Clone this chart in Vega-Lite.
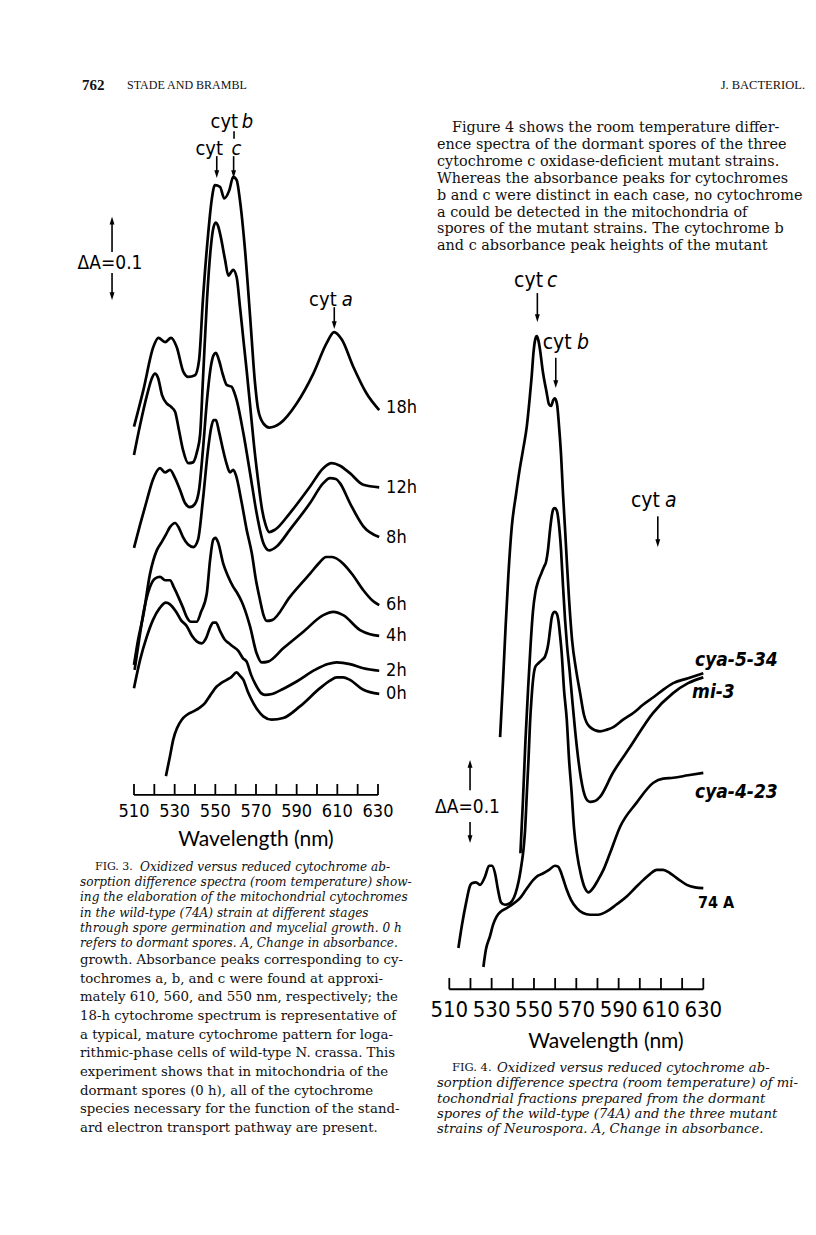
{
"$schema": "https://vega.github.io/schema/vega-lite/v6.json",
"background": "white",
"padding": 0,
"spacing": 0,
"config": {"view": {"stroke": null}, "concat": {"spacing": 0}},
"resolve": {"scale": {"x": "independent", "y": "independent"}},
"datasets": {
"f3": [
{"s":"18h","nm":510.0,"A":0.510},{"s":"18h","nm":514.6,"A":0.554},{"s":"18h","nm":519.5,"A":0.606},{"s":"18h","nm":522.0,"A":0.617},{"s":"18h","nm":525.3,"A":0.612},{"s":"18h","nm":528.2,"A":0.617},{"s":"18h","nm":531.0,"A":0.606},{"s":"18h","nm":534.3,"A":0.576},{"s":"18h","nm":536.7,"A":0.570},{"s":"18h","nm":540.0,"A":0.572},{"s":"18h","nm":542.0,"A":0.590},{"s":"18h","nm":543.9,"A":0.663},{"s":"18h","nm":546.5,"A":0.743},{"s":"18h","nm":548.2,"A":0.783},{"s":"18h","nm":549.8,"A":0.801},{"s":"18h","nm":552.3,"A":0.799},{"s":"18h","nm":554.4,"A":0.785},{"s":"18h","nm":556.9,"A":0.795},{"s":"18h","nm":558.8,"A":0.811},{"s":"18h","nm":560.5,"A":0.807},{"s":"18h","nm":562.1,"A":0.783},{"s":"18h","nm":564.6,"A":0.723},{"s":"18h","nm":567.1,"A":0.643},{"s":"18h","nm":569.5,"A":0.563},{"s":"18h","nm":571.1,"A":0.530},{"s":"18h","nm":573.6,"A":0.514},{"s":"18h","nm":576.5,"A":0.509},{"s":"18h","nm":581.8,"A":0.514},{"s":"18h","nm":590.0,"A":0.538},{"s":"18h","nm":598.2,"A":0.574},{"s":"18h","nm":604.8,"A":0.611},{"s":"18h","nm":608.4,"A":0.624},{"s":"18h","nm":612.2,"A":0.615},{"s":"18h","nm":617.9,"A":0.582},{"s":"18h","nm":624.4,"A":0.550},{"s":"18h","nm":630.6,"A":0.530},
{"s":"12h","nm":510.0,"A":0.476},{"s":"12h","nm":513.0,"A":0.512},{"s":"12h","nm":516.4,"A":0.548},{"s":"12h","nm":518.9,"A":0.569},{"s":"12h","nm":520.3,"A":0.574},{"s":"12h","nm":521.8,"A":0.569},{"s":"12h","nm":523.8,"A":0.548},{"s":"12h","nm":526.1,"A":0.538},{"s":"12h","nm":528.2,"A":0.534},{"s":"12h","nm":530.2,"A":0.528},{"s":"12h","nm":532.1,"A":0.506},{"s":"12h","nm":534.1,"A":0.482},{"s":"12h","nm":536.7,"A":0.466},{"s":"12h","nm":539.0,"A":0.467},{"s":"12h","nm":541.0,"A":0.480},{"s":"12h","nm":542.5,"A":0.500},{"s":"12h","nm":543.9,"A":0.566},{"s":"12h","nm":545.9,"A":0.663},{"s":"12h","nm":547.9,"A":0.729},{"s":"12h","nm":549.0,"A":0.749},{"s":"12h","nm":550.2,"A":0.756},{"s":"12h","nm":551.3,"A":0.752},{"s":"12h","nm":552.3,"A":0.743},{"s":"12h","nm":554.8,"A":0.711},{"s":"12h","nm":556.4,"A":0.692},{"s":"12h","nm":557.7,"A":0.696},{"s":"12h","nm":558.8,"A":0.699},{"s":"12h","nm":560.5,"A":0.690},{"s":"12h","nm":562.1,"A":0.655},{"s":"12h","nm":563.8,"A":0.615},{"s":"12h","nm":565.4,"A":0.578},{"s":"12h","nm":567.1,"A":0.536},{"s":"12h","nm":569.0,"A":0.488},{"s":"12h","nm":571.0,"A":0.446},{"s":"12h","nm":573.0,"A":0.410},{"s":"12h","nm":574.7,"A":0.392},{"s":"12h","nm":576.5,"A":0.383},{"s":"12h","nm":579.4,"A":0.386},{"s":"12h","nm":586.7,"A":0.406},{"s":"12h","nm":596.6,"A":0.438},{"s":"12h","nm":603.1,"A":0.460},{"s":"12h","nm":607.2,"A":0.466},{"s":"12h","nm":611.3,"A":0.463},{"s":"12h","nm":616.2,"A":0.454},{"s":"12h","nm":622.8,"A":0.440},{"s":"12h","nm":630.6,"A":0.437},
{"s":"8h","nm":510.0,"A":0.364},{"s":"8h","nm":513.0,"A":0.392},{"s":"8h","nm":516.4,"A":0.422},{"s":"8h","nm":519.3,"A":0.446},{"s":"8h","nm":522.8,"A":0.460},{"s":"8h","nm":525.3,"A":0.455},{"s":"8h","nm":527.7,"A":0.458},{"s":"8h","nm":530.2,"A":0.448},{"s":"8h","nm":532.6,"A":0.434},{"s":"8h","nm":535.1,"A":0.418},{"s":"8h","nm":537.5,"A":0.413},{"s":"8h","nm":540.0,"A":0.417},{"s":"8h","nm":542.0,"A":0.434},{"s":"8h","nm":543.9,"A":0.482},{"s":"8h","nm":545.9,"A":0.542},{"s":"8h","nm":547.9,"A":0.584},{"s":"8h","nm":549.1,"A":0.596},{"s":"8h","nm":550.3,"A":0.599},{"s":"8h","nm":551.8,"A":0.590},{"s":"8h","nm":553.8,"A":0.572},{"s":"8h","nm":555.7,"A":0.560},{"s":"8h","nm":558.1,"A":0.558},{"s":"8h","nm":559.2,"A":0.552},{"s":"8h","nm":560.5,"A":0.542},{"s":"8h","nm":563.8,"A":0.502},{"s":"8h","nm":567.1,"A":0.454},{"s":"8h","nm":570.3,"A":0.406},{"s":"8h","nm":573.6,"A":0.370},{"s":"8h","nm":576.5,"A":0.361},{"s":"8h","nm":580.3,"A":0.366},{"s":"8h","nm":586.7,"A":0.386},{"s":"8h","nm":596.6,"A":0.418},{"s":"8h","nm":603.1,"A":0.442},{"s":"8h","nm":606.4,"A":0.448},{"s":"8h","nm":609.3,"A":0.447},{"s":"8h","nm":611.3,"A":0.442},{"s":"8h","nm":616.2,"A":0.418},{"s":"8h","nm":622.8,"A":0.390},{"s":"8h","nm":630.6,"A":0.377},
{"s":"6h","nm":510.0,"A":0.223},{"s":"6h","nm":512.0,"A":0.253},{"s":"6h","nm":514.6,"A":0.283},{"s":"6h","nm":517.9,"A":0.333},{"s":"6h","nm":521.2,"A":0.361},{"s":"6h","nm":523.6,"A":0.371},{"s":"6h","nm":525.7,"A":0.380},{"s":"6h","nm":527.7,"A":0.389},{"s":"6h","nm":530.2,"A":0.394},{"s":"6h","nm":532.1,"A":0.388},{"s":"6h","nm":534.1,"A":0.377},{"s":"6h","nm":536.6,"A":0.368},{"s":"6h","nm":539.2,"A":0.365},{"s":"6h","nm":541.5,"A":0.374},{"s":"6h","nm":543.9,"A":0.422},{"s":"6h","nm":546.4,"A":0.482},{"s":"6h","nm":547.9,"A":0.508},{"s":"6h","nm":549.1,"A":0.518},{"s":"6h","nm":550.3,"A":0.518},{"s":"6h","nm":551.8,"A":0.504},{"s":"6h","nm":553.8,"A":0.482},{"s":"6h","nm":555.7,"A":0.464},{"s":"6h","nm":557.2,"A":0.455},{"s":"6h","nm":558.8,"A":0.458},{"s":"6h","nm":560.2,"A":0.451},{"s":"6h","nm":563.0,"A":0.418},{"s":"6h","nm":565.4,"A":0.386},{"s":"6h","nm":567.9,"A":0.358},{"s":"6h","nm":570.0,"A":0.325},{"s":"6h","nm":572.0,"A":0.301},{"s":"6h","nm":573.7,"A":0.283},{"s":"6h","nm":575.3,"A":0.276},{"s":"6h","nm":577.9,"A":0.277},{"s":"6h","nm":586.7,"A":0.305},{"s":"6h","nm":596.6,"A":0.333},{"s":"6h","nm":601.5,"A":0.347},{"s":"6h","nm":604.4,"A":0.353},{"s":"6h","nm":607.4,"A":0.353},{"s":"6h","nm":612.9,"A":0.345},{"s":"6h","nm":617.7,"A":0.331},{"s":"6h","nm":622.8,"A":0.313},{"s":"6h","nm":627.1,"A":0.301},{"s":"6h","nm":630.6,"A":0.295},
{"s":"4h","nm":510.3,"A":0.217},{"s":"4h","nm":512.5,"A":0.253},{"s":"4h","nm":514.9,"A":0.289},{"s":"4h","nm":517.9,"A":0.317},{"s":"4h","nm":520.3,"A":0.327},{"s":"4h","nm":522.8,"A":0.329},{"s":"4h","nm":525.3,"A":0.325},{"s":"4h","nm":527.7,"A":0.325},{"s":"4h","nm":529.7,"A":0.316},{"s":"4h","nm":531.8,"A":0.305},{"s":"4h","nm":534.1,"A":0.292},{"s":"4h","nm":535.9,"A":0.281},{"s":"4h","nm":538.0,"A":0.275},{"s":"4h","nm":540.8,"A":0.275},{"s":"4h","nm":543.0,"A":0.287},{"s":"4h","nm":545.8,"A":0.309},{"s":"4h","nm":547.4,"A":0.349},{"s":"4h","nm":549.0,"A":0.374},{"s":"4h","nm":550.1,"A":0.376},{"s":"4h","nm":551.3,"A":0.371},{"s":"4h","nm":553.9,"A":0.345},{"s":"4h","nm":556.2,"A":0.330},{"s":"4h","nm":558.8,"A":0.317},{"s":"4h","nm":560.7,"A":0.310},{"s":"4h","nm":563.0,"A":0.299},{"s":"4h","nm":564.6,"A":0.289},{"s":"4h","nm":567.1,"A":0.269},{"s":"4h","nm":570.3,"A":0.237},{"s":"4h","nm":572.8,"A":0.226},{"s":"4h","nm":575.9,"A":0.227},{"s":"4h","nm":583.4,"A":0.243},{"s":"4h","nm":593.3,"A":0.263},{"s":"4h","nm":603.1,"A":0.283},{"s":"4h","nm":608.0,"A":0.287},{"s":"4h","nm":612.9,"A":0.283},{"s":"4h","nm":621.2,"A":0.265},{"s":"4h","nm":626.1,"A":0.260},{"s":"4h","nm":630.6,"A":0.258},
{"s":"2h","nm":510.0,"A":0.195},{"s":"2h","nm":513.0,"A":0.229},{"s":"2h","nm":516.3,"A":0.257},{"s":"2h","nm":519.3,"A":0.277},{"s":"2h","nm":522.8,"A":0.292},{"s":"2h","nm":525.7,"A":0.298},{"s":"2h","nm":527.7,"A":0.296},{"s":"2h","nm":530.7,"A":0.287},{"s":"2h","nm":533.1,"A":0.277},{"s":"2h","nm":535.9,"A":0.270},{"s":"2h","nm":538.5,"A":0.258},{"s":"2h","nm":541.0,"A":0.251},{"s":"2h","nm":543.3,"A":0.249},{"s":"2h","nm":545.4,"A":0.255},{"s":"2h","nm":547.4,"A":0.268},{"s":"2h","nm":548.9,"A":0.274},{"s":"2h","nm":550.3,"A":0.274},{"s":"2h","nm":552.3,"A":0.264},{"s":"2h","nm":554.8,"A":0.253},{"s":"2h","nm":556.7,"A":0.249},{"s":"2h","nm":558.2,"A":0.246},{"s":"2h","nm":561.3,"A":0.240},{"s":"2h","nm":563.6,"A":0.231},{"s":"2h","nm":565.4,"A":0.227},{"s":"2h","nm":567.6,"A":0.211},{"s":"2h","nm":570.3,"A":0.197},{"s":"2h","nm":572.5,"A":0.189},{"s":"2h","nm":574.4,"A":0.187},{"s":"2h","nm":577.9,"A":0.188},{"s":"2h","nm":583.3,"A":0.194},{"s":"2h","nm":590.0,"A":0.203},{"s":"2h","nm":599.0,"A":0.217},{"s":"2h","nm":605.4,"A":0.224},{"s":"2h","nm":609.7,"A":0.226},{"s":"2h","nm":616.2,"A":0.224},{"s":"2h","nm":622.8,"A":0.219},{"s":"2h","nm":630.6,"A":0.216},
{"s":"0h","nm":525.7,"A":0.089},{"s":"0h","nm":527.7,"A":0.113},{"s":"0h","nm":529.3,"A":0.133},{"s":"0h","nm":531.2,"A":0.147},{"s":"0h","nm":533.5,"A":0.157},{"s":"0h","nm":536.1,"A":0.163},{"s":"0h","nm":539.2,"A":0.167},{"s":"0h","nm":542.0,"A":0.171},{"s":"0h","nm":544.9,"A":0.177},{"s":"0h","nm":547.4,"A":0.186},{"s":"0h","nm":550.7,"A":0.197},{"s":"0h","nm":552.8,"A":0.201},{"s":"0h","nm":555.6,"A":0.205},{"s":"0h","nm":557.7,"A":0.208},{"s":"0h","nm":560.5,"A":0.214},{"s":"0h","nm":562.1,"A":0.210},{"s":"0h","nm":563.8,"A":0.205},{"s":"0h","nm":566.1,"A":0.190},{"s":"0h","nm":568.7,"A":0.177},{"s":"0h","nm":571.0,"A":0.168},{"s":"0h","nm":573.6,"A":0.161},{"s":"0h","nm":577.7,"A":0.157},{"s":"0h","nm":583.4,"A":0.159},{"s":"0h","nm":591.6,"A":0.173},{"s":"0h","nm":601.5,"A":0.195},{"s":"0h","nm":606.4,"A":0.204},{"s":"0h","nm":609.7,"A":0.208},{"s":"0h","nm":612.8,"A":0.208},{"s":"0h","nm":616.2,"A":0.205},{"s":"0h","nm":622.8,"A":0.193},{"s":"0h","nm":630.6,"A":0.188}
],
"f4": [
{"s":"cya-5-34","nm":534.0,"A":0.383},{"s":"cya-5-34","nm":535.4,"A":0.452},{"s":"cya-5-34","nm":536.6,"A":0.516},{"s":"cya-5-34","nm":537.9,"A":0.578},{"s":"cya-5-34","nm":539.5,"A":0.636},{"s":"cya-5-34","nm":541.5,"A":0.675},{"s":"cya-5-34","nm":543.4,"A":0.708},{"s":"cya-5-34","nm":545.1,"A":0.733},{"s":"cya-5-34","nm":546.6,"A":0.757},{"s":"cya-5-34","nm":547.9,"A":0.789},{"s":"cya-5-34","nm":548.9,"A":0.817},{"s":"cya-5-34","nm":549.8,"A":0.847},{"s":"cya-5-34","nm":550.5,"A":0.861},{"s":"cya-5-34","nm":551.3,"A":0.866},{"s":"cya-5-34","nm":552.1,"A":0.861},{"s":"cya-5-34","nm":552.9,"A":0.849},{"s":"cya-5-34","nm":554.1,"A":0.825},{"s":"cya-5-34","nm":556.0,"A":0.798},{"s":"cya-5-34","nm":557.1,"A":0.784},{"s":"cya-5-34","nm":558.1,"A":0.782},{"s":"cya-5-34","nm":559.1,"A":0.789},{"s":"cya-5-34","nm":559.9,"A":0.791},{"s":"cya-5-34","nm":560.9,"A":0.784},{"s":"cya-5-34","nm":561.8,"A":0.759},{"s":"cya-5-34","nm":562.8,"A":0.723},{"s":"cya-5-34","nm":563.7,"A":0.677},{"s":"cya-5-34","nm":564.7,"A":0.633},{"s":"cya-5-34","nm":565.5,"A":0.596},{"s":"cya-5-34","nm":566.6,"A":0.548},{"s":"cya-5-34","nm":568.0,"A":0.500},{"s":"cya-5-34","nm":569.9,"A":0.464},{"s":"cya-5-34","nm":571.8,"A":0.436},{"s":"cya-5-34","nm":573.6,"A":0.410},{"s":"cya-5-34","nm":576.5,"A":0.395},{"s":"cya-5-34","nm":581.2,"A":0.390},{"s":"cya-5-34","nm":584.5,"A":0.392},{"s":"cya-5-34","nm":587.5,"A":0.395},{"s":"cya-5-34","nm":592.1,"A":0.404},{"s":"cya-5-34","nm":596.9,"A":0.412},{"s":"cya-5-34","nm":601.5,"A":0.422},{"s":"cya-5-34","nm":606.4,"A":0.431},{"s":"cya-5-34","nm":611.0,"A":0.440},{"s":"cya-5-34","nm":615.8,"A":0.448},{"s":"cya-5-34","nm":622.8,"A":0.454},{"s":"cya-5-34","nm":630.0,"A":0.460},
{"s":"mi-3","nm":543.6,"A":0.243},{"s":"mi-3","nm":544.8,"A":0.307},{"s":"mi-3","nm":546.0,"A":0.380},{"s":"mi-3","nm":547.2,"A":0.440},{"s":"mi-3","nm":548.4,"A":0.494},{"s":"mi-3","nm":549.5,"A":0.534},{"s":"mi-3","nm":550.7,"A":0.558},{"s":"mi-3","nm":551.9,"A":0.570},{"s":"mi-3","nm":553.6,"A":0.581},{"s":"mi-3","nm":554.7,"A":0.588},{"s":"mi-3","nm":555.7,"A":0.594},{"s":"mi-3","nm":556.6,"A":0.608},{"s":"mi-3","nm":557.6,"A":0.633},{"s":"mi-3","nm":558.5,"A":0.651},{"s":"mi-3","nm":559.2,"A":0.658},{"s":"mi-3","nm":559.9,"A":0.659},{"s":"mi-3","nm":560.9,"A":0.655},{"s":"mi-3","nm":561.8,"A":0.639},{"s":"mi-3","nm":562.8,"A":0.608},{"s":"mi-3","nm":563.7,"A":0.566},{"s":"mi-3","nm":564.7,"A":0.524},{"s":"mi-3","nm":565.6,"A":0.494},{"s":"mi-3","nm":566.8,"A":0.464},{"s":"mi-3","nm":567.8,"A":0.436},{"s":"mi-3","nm":569.4,"A":0.392},{"s":"mi-3","nm":571.0,"A":0.355},{"s":"mi-3","nm":573.3,"A":0.319},{"s":"mi-3","nm":575.1,"A":0.307},{"s":"mi-3","nm":576.5,"A":0.305},{"s":"mi-3","nm":578.8,"A":0.306},{"s":"mi-3","nm":581.2,"A":0.311},{"s":"mi-3","nm":587.3,"A":0.340},{"s":"mi-3","nm":595.4,"A":0.371},{"s":"mi-3","nm":606.2,"A":0.412},{"s":"mi-3","nm":615.7,"A":0.436},{"s":"mi-3","nm":622.8,"A":0.448},{"s":"mi-3","nm":630.0,"A":0.455},
{"s":"cya-4-23","nm":514.3,"A":0.129},{"s":"cya-4-23","nm":516.0,"A":0.157},{"s":"cya-4-23","nm":517.9,"A":0.183},{"s":"cya-4-23","nm":519.8,"A":0.204},{"s":"cya-4-23","nm":520.7,"A":0.207},{"s":"cya-4-23","nm":522.6,"A":0.208},{"s":"cya-4-23","nm":524.5,"A":0.205},{"s":"cya-4-23","nm":526.9,"A":0.215},{"s":"cya-4-23","nm":528.8,"A":0.228},{"s":"cya-4-23","nm":530.2,"A":0.228},{"s":"cya-4-23","nm":531.6,"A":0.219},{"s":"cya-4-23","nm":533.0,"A":0.199},{"s":"cya-4-23","nm":534.4,"A":0.184},{"s":"cya-4-23","nm":536.3,"A":0.181},{"s":"cya-4-23","nm":538.7,"A":0.183},{"s":"cya-4-23","nm":540.6,"A":0.190},{"s":"cya-4-23","nm":542.0,"A":0.201},{"s":"cya-4-23","nm":543.2,"A":0.215},{"s":"cya-4-23","nm":544.2,"A":0.231},{"s":"cya-4-23","nm":545.1,"A":0.249},{"s":"cya-4-23","nm":545.8,"A":0.271},{"s":"cya-4-23","nm":546.7,"A":0.319},{"s":"cya-4-23","nm":547.4,"A":0.355},{"s":"cya-4-23","nm":548.1,"A":0.398},{"s":"cya-4-23","nm":548.8,"A":0.428},{"s":"cya-4-23","nm":549.7,"A":0.455},{"s":"cya-4-23","nm":550.7,"A":0.468},{"s":"cya-4-23","nm":552.1,"A":0.472},{"s":"cya-4-23","nm":553.8,"A":0.476},{"s":"cya-4-23","nm":555.2,"A":0.480},{"s":"cya-4-23","nm":556.8,"A":0.496},{"s":"cya-4-23","nm":557.6,"A":0.512},{"s":"cya-4-23","nm":558.4,"A":0.527},{"s":"cya-4-23","nm":559.2,"A":0.533},{"s":"cya-4-23","nm":559.9,"A":0.534},{"s":"cya-4-23","nm":560.9,"A":0.531},{"s":"cya-4-23","nm":561.5,"A":0.524},{"s":"cya-4-23","nm":562.3,"A":0.506},{"s":"cya-4-23","nm":563.1,"A":0.484},{"s":"cya-4-23","nm":564.2,"A":0.440},{"s":"cya-4-23","nm":565.5,"A":0.404},{"s":"cya-4-23","nm":566.6,"A":0.355},{"s":"cya-4-23","nm":567.8,"A":0.316},{"s":"cya-4-23","nm":568.9,"A":0.274},{"s":"cya-4-23","nm":570.3,"A":0.243},{"s":"cya-4-23","nm":572.2,"A":0.217},{"s":"cya-4-23","nm":573.9,"A":0.202},{"s":"cya-4-23","nm":575.7,"A":0.196},{"s":"cya-4-23","nm":577.9,"A":0.201},{"s":"cya-4-23","nm":580.3,"A":0.211},{"s":"cya-4-23","nm":582.8,"A":0.223},{"s":"cya-4-23","nm":585.9,"A":0.243},{"s":"cya-4-23","nm":590.7,"A":0.275},{"s":"cya-4-23","nm":598.5,"A":0.304},{"s":"cya-4-23","nm":606.4,"A":0.328},{"s":"cya-4-23","nm":611.0,"A":0.333},{"s":"cya-4-23","nm":615.8,"A":0.334},{"s":"cya-4-23","nm":622.8,"A":0.337},{"s":"cya-4-23","nm":630.0,"A":0.340},
{"s":"74A","nm":526.1,"A":0.106},{"s":"74A","nm":527.3,"A":0.127},{"s":"74A","nm":529.2,"A":0.143},{"s":"74A","nm":530.7,"A":0.157},{"s":"74A","nm":532.4,"A":0.167},{"s":"74A","nm":534.4,"A":0.173},{"s":"74A","nm":537.1,"A":0.177},{"s":"74A","nm":540.1,"A":0.182},{"s":"74A","nm":543.4,"A":0.189},{"s":"74A","nm":546.2,"A":0.199},{"s":"74A","nm":549.7,"A":0.211},{"s":"74A","nm":551.9,"A":0.216},{"s":"74A","nm":554.4,"A":0.219},{"s":"74A","nm":557.1,"A":0.223},{"s":"74A","nm":559.9,"A":0.228},{"s":"74A","nm":561.4,"A":0.227},{"s":"74A","nm":562.3,"A":0.223},{"s":"74A","nm":563.7,"A":0.213},{"s":"74A","nm":565.5,"A":0.199},{"s":"74A","nm":567.5,"A":0.187},{"s":"74A","nm":570.2,"A":0.177},{"s":"74A","nm":573.2,"A":0.171},{"s":"74A","nm":576.5,"A":0.169},{"s":"74A","nm":580.3,"A":0.169},{"s":"74A","nm":584.4,"A":0.173},{"s":"74A","nm":588.8,"A":0.181},{"s":"74A","nm":593.8,"A":0.191},{"s":"74A","nm":597.7,"A":0.201},{"s":"74A","nm":601.7,"A":0.211},{"s":"74A","nm":604.8,"A":0.218},{"s":"74A","nm":608.0,"A":0.223},{"s":"74A","nm":611.0,"A":0.223},{"s":"74A","nm":614.3,"A":0.219},{"s":"74A","nm":618.1,"A":0.212},{"s":"74A","nm":622.2,"A":0.205},{"s":"74A","nm":626.1,"A":0.202},{"s":"74A","nm":630.0,"A":0.201}
],
"ticks": [{"nm":510},{"nm":520},{"nm":530},{"nm":540},{"nm":550},{"nm":560},{"nm":570},{"nm":580},{"nm":590},{"nm":600},{"nm":610},{"nm":620},{"nm":630}],
"f3lab": [{"label":"18h","nm":634,"A":0.533},{"label":"12h","nm":634,"A":0.436},{"label":"8h","nm":634,"A":0.376},{"label":"6h","nm":634,"A":0.295},{"label":"4h","nm":634,"A":0.258},{"label":"2h","nm":634,"A":0.216},{"label":"0h","nm":634,"A":0.188}],
"f3cyt": [{"label":"cyt","nm":561.2,"A":0.877},{"label":"cyt","nm":553.8,"A":0.844},{"label":"cyt","nm":609.7,"A":0.663}],
"f3let": [{"label":"b","nm":563.0,"A":0.877},{"label":"c","nm":558.0,"A":0.844},{"label":"a","nm":612.2,"A":0.663}],
"f3dA": [{"label":"ΔA=0.1","nm":498.2,"A":0.707}],
"f3sh": [{"nm":550.7,"A":0.836,"A2":0.815},{"nm":559.0,"A":0.836,"A2":0.815},{"nm":559.2,"A":0.866,"A2":0.857},{"nm":608.5,"A":0.654,"A2":0.633},{"nm":499.2,"A":0.7205,"A2":0.755},{"nm":499.2,"A":0.6952,"A2":0.670}],
"f3hd": [{"nm":550.7,"A":0.8096,"dir":"down"},{"nm":559.0,"A":0.8096,"dir":"down"},{"nm":608.5,"A":0.6277,"dir":"down"},{"nm":499.2,"A":0.763,"dir":"up"},{"nm":499.2,"A":0.6627,"dir":"down"}],
"f4lab": [{"label":"cya-5-34","nm":626.1,"A":0.476},{"label":"mi-3","nm":624.7,"A":0.437},{"label":"cya-4-23","nm":626.1,"A":0.317}],
"f4lab2": [{"label":"74 A","nm":627.5,"A":0.183}],
"f4cyt": [{"label":"cyt","nm":554.3,"A":0.932},{"label":"cyt","nm":567.8,"A":0.858},{"label":"cyt","nm":609.5,"A":0.667}],
"f4let": [{"label":"c","nm":556.2,"A":0.932},{"label":"b","nm":570.3,"A":0.858},{"label":"a","nm":611.9,"A":0.667}],
"f4dA": [{"label":"ΔA=0.1","nm":518.6,"A":0.299}],
"f4sh": [{"nm":551.6,"A":0.918,"A2":0.89},{"nm":560.3,"A":0.840,"A2":0.81},{"nm":608.5,"A":0.649,"A2":0.62},{"nm":519.8,"A":0.319,"A2":0.348},{"nm":519.8,"A":0.2807,"A2":0.262}],
"f4hd": [{"nm":551.6,"A":0.8831,"dir":"down"},{"nm":560.3,"A":0.8036,"dir":"down"},{"nm":608.5,"A":0.612,"dir":"down"},{"nm":519.8,"A":0.3554,"dir":"up"},{"nm":519.8,"A":0.2554,"dir":"down"}],
"cap3": [{"line":0,"text":"Oxidized versus reduced cytochrome ab-"},{"line":1,"text":"sorption difference spectra (room temperature) show-"},{"line":2,"text":"ing the elaboration of the mitochondrial cytochromes"},{"line":3,"text":"in the wild-type (74A) strain at different stages"},{"line":4,"text":"through spore germination and mycelial growth. 0 h"},{"line":5,"text":"refers to dormant spores. A, Change in absorbance."}],
"bodyL": [{"line":0,"text":"growth. Absorbance peaks corresponding to cy-"},{"line":1,"text":"tochromes a, b, and c were found at approxi-"},{"line":2,"text":"mately 610, 560, and 550 nm, respectively; the"},{"line":3,"text":"18-h cytochrome spectrum is representative of"},{"line":4,"text":"a typical, mature cytochrome pattern for loga-"},{"line":5,"text":"rithmic-phase cells of wild-type N. crassa. This"},{"line":6,"text":"experiment shows that in mitochondria of the"},{"line":7,"text":"dormant spores (0 h), all of the cytochrome"},{"line":8,"text":"species necessary for the function of the stand-"},{"line":9,"text":"ard electron transport pathway are present."}],
"bodyR": [{"line":0,"text":"Figure 4 shows the room temperature differ-"},{"line":1,"text":"ence spectra of the dormant spores of the three"},{"line":2,"text":"cytochrome c oxidase-deficient mutant strains."},{"line":3,"text":"Whereas the absorbance peaks for cytochromes"},{"line":4,"text":"b and c were distinct in each case, no cytochrome"},{"line":5,"text":"a could be detected in the mitochondria of"},{"line":6,"text":"spores of the mutant strains. The cytochrome b"},{"line":7,"text":"and c absorbance peak heights of the mutant"}],
"cap4": [{"line":0,"text":"Oxidized versus reduced cytochrome ab-"},{"line":1,"text":"sorption difference spectra (room temperature) of mi-"},{"line":2,"text":"tochondrial fractions prepared from the dormant"},{"line":3,"text":"spores of the wild-type (74A) and the three mutant"},{"line":4,"text":"strains of Neurospora. A, Change in absorbance."}]
},
"hconcat": [
{"vconcat": [
 {"width": 425, "height": 100,
  "layer": [
   {"data": {"values": [{"text": "762"}]},
    "mark": {"type": "text", "align": "left", "baseline": "middle", "font": "Liberation Serif", "fontSize": 15, "fontWeight": "bold", "color": "#111"},
    "encoding": {"x": {"datum": 82, "type": "quantitative", "scale": {"domain": [0, 425], "nice": false, "zero": false}, "axis": null},
                 "y": {"datum": 85, "type": "quantitative", "scale": {"domain": [0, 100], "reverse": true, "nice": false, "zero": false}, "axis": null},
                 "text": {"field": "text"}}},
   {"data": {"values": [{"text": "STADE AND BRAMBL"}]},
    "mark": {"type": "text", "align": "left", "baseline": "middle", "font": "Liberation Serif", "fontSize": 12, "color": "#111"},
    "encoding": {"x": {"datum": 127, "type": "quantitative", "scale": {"domain": [0, 425], "nice": false, "zero": false}, "axis": null},
                 "y": {"datum": 85, "type": "quantitative", "scale": {"domain": [0, 100], "reverse": true, "nice": false, "zero": false}, "axis": null},
                 "text": {"field": "text"}}}
  ]},
 {"width": 425, "height": 750,
  "encoding": {
   "x": {"field": "nm", "type": "quantitative", "scale": {"domain": [444.10, 653.12], "nice": false, "zero": false}, "axis": null}
  },
  "layer": [
   {"data": {"name": "f3"}, "mark": {"type": "line", "color": "black", "strokeWidth": 2.7, "interpolate": "monotone"},
    "encoding": {"y": {"field": "A", "type": "quantitative", "scale": {"domain": [0, 0.90361], "nice": false, "zero": false}, "axis": null}, "detail": {"field": "s"}}},
   {"data": {"name": "f3lab"}, "mark": {"type": "text", "align": "left", "baseline": "middle", "font": "Liberation Sans Narrow, Arial Narrow, DejaVu Sans Condensed, sans-serif", "fontSize": 18, "color": "black"},
    "encoding": {"y": {"field": "A", "type": "quantitative", "scale": {"domain": [0, 0.90361], "nice": false, "zero": false}, "axis": null}, "text": {"field": "label"}}},
   {"data": {"name": "f3cyt"}, "mark": {"type": "text", "align": "right", "baseline": "middle", "font": "Liberation Sans Narrow, Arial Narrow, DejaVu Sans Condensed, sans-serif", "fontSize": 20, "color": "black"},
    "encoding": {"y": {"field": "A", "type": "quantitative", "scale": {"domain": [0, 0.90361], "nice": false, "zero": false}, "axis": null}, "text": {"field": "label"}}},
   {"data": {"name": "f3let"}, "mark": {"type": "text", "align": "left", "baseline": "middle", "font": "Liberation Sans Narrow, Arial Narrow, DejaVu Sans Condensed, sans-serif", "fontSize": 20, "fontStyle": "italic", "color": "black"},
    "encoding": {"y": {"field": "A", "type": "quantitative", "scale": {"domain": [0, 0.90361], "nice": false, "zero": false}, "axis": null}, "text": {"field": "label"}}},
   {"data": {"name": "f3dA"}, "mark": {"type": "text", "align": "center", "baseline": "middle", "font": "Liberation Sans Narrow, Arial Narrow, DejaVu Sans Condensed, sans-serif", "fontSize": 19, "color": "black"},
    "encoding": {"y": {"field": "A", "type": "quantitative", "scale": {"domain": [0, 0.90361], "nice": false, "zero": false}, "axis": null}, "text": {"field": "label"}}},
   {"data": {"name": "f3sh"}, "mark": {"type": "rule", "color": "black", "strokeWidth": 1.6},
    "encoding": {"y": {"field": "A", "type": "quantitative", "scale": {"domain": [0, 0.90361], "nice": false, "zero": false}, "axis": null}, "y2": {"field": "A2"}}},
   {"data": {"name": "f3hd"}, "mark": {"type": "point", "filled": true, "opacity": 1, "color": "black", "size": 49, "strokeWidth": 0},
    "encoding": {"y": {"field": "A", "type": "quantitative", "scale": {"domain": [0, 0.90361], "nice": false, "zero": false}, "axis": null},
                 "shape": {"field": "dir", "type": "nominal", "scale": {"domain": ["up", "down"], "range": ["M-0.7,2.2L0.7,2.2L0,0Z", "M-0.7,-2.2L0.7,-2.2L0,0Z"]}, "legend": null}}},
   {"data": {"values": [{"nm": 510, "nm2": 630}]}, "mark": {"type": "rule", "color": "black", "strokeWidth": 1.8},
    "encoding": {"x2": {"field": "nm2"}, "y": {"datum": 0.0663, "type": "quantitative", "scale": {"domain": [0, 0.90361], "nice": false, "zero": false}, "axis": null}}},
   {"data": {"name": "ticks"}, "mark": {"type": "rule", "color": "black", "strokeWidth": 1.8},
    "encoding": {"y": {"datum": 0.0663, "type": "quantitative", "scale": {"domain": [0, 0.90361], "nice": false, "zero": false}, "axis": null}, "y2": {"datum": 0.0795}}},
   {"data": {"name": "ticks"}, "transform": [{"filter": "datum.nm % 20 == 10"}], "mark": {"type": "text", "align": "center", "baseline": "middle", "font": "Liberation Sans Narrow, Arial Narrow, DejaVu Sans Condensed, sans-serif", "fontSize": 18, "color": "black"},
    "encoding": {"y": {"datum": 0.0461, "type": "quantitative", "scale": {"domain": [0, 0.90361], "nice": false, "zero": false}, "axis": null}, "text": {"field": "nm", "type": "quantitative", "format": "d"}}},
   {"data": {"values": [{"label": "Wavelength (nm)", "nm": 570}]}, "mark": {"type": "text", "align": "center", "baseline": "middle", "font": "Lato", "fontSize": 21, "color": "black"},
    "encoding": {"y": {"datum": 0.012, "type": "quantitative", "scale": {"domain": [0, 0.90361], "nice": false, "zero": false}, "axis": null}, "text": {"field": "label"}}}
  ]},
 {"width": 425, "height": 95,
  "layer": [
   {"data": {"values": [{"line": 0, "text": "FIG. 3."}]},
    "mark": {"type": "text", "align": "left", "baseline": "middle", "font": "DejaVu Serif", "fontSize": 11, "color": "#111"},
    "encoding": {"x": {"datum": 95, "type": "quantitative", "scale": {"domain": [0, 425], "nice": false, "zero": false}, "axis": null},
                 "y": {"field": "line", "type": "quantitative", "scale": {"domain": [-1.118, 5.132], "reverse": true, "nice": false, "zero": false}, "axis": null},
                 "text": {"field": "text"}}},
   {"data": {"name": "cap3"}, "transform": [{"filter": "datum.line == 0"}],
    "mark": {"type": "text", "align": "left", "baseline": "middle", "font": "DejaVu Serif", "fontSize": 12.1, "fontStyle": "italic", "color": "#111"},
    "encoding": {"x": {"datum": 140, "type": "quantitative", "scale": {"domain": [0, 425], "nice": false, "zero": false}, "axis": null},
                 "y": {"field": "line", "type": "quantitative", "scale": {"domain": [-1.118, 5.132], "reverse": true, "nice": false, "zero": false}, "axis": null},
                 "text": {"field": "text"}}},
   {"data": {"name": "cap3"}, "transform": [{"filter": "datum.line > 0"}],
    "mark": {"type": "text", "align": "left", "baseline": "middle", "font": "DejaVu Serif", "fontSize": 12.1, "fontStyle": "italic", "color": "#111"},
    "encoding": {"x": {"datum": 80, "type": "quantitative", "scale": {"domain": [0, 425], "nice": false, "zero": false}, "axis": null},
                 "y": {"field": "line", "type": "quantitative", "scale": {"domain": [-1.118, 5.132], "reverse": true, "nice": false, "zero": false}, "axis": null},
                 "text": {"field": "text"}}}
  ]},
 {"width": 425, "height": 290,
  "layer": [
   {"data": {"name": "bodyL"},
    "mark": {"type": "text", "align": "left", "baseline": "middle", "font": "DejaVu Serif", "fontSize": 13.3, "color": "#111"},
    "encoding": {"x": {"datum": 80, "type": "quantitative", "scale": {"domain": [0, 425], "nice": false, "zero": false}, "axis": null},
                 "y": {"field": "line", "type": "quantitative", "scale": {"domain": [-0.8034, 14.730], "reverse": true, "nice": false, "zero": false}, "axis": null},
                 "text": {"field": "text"}}}
  ]}
], "spacing": 0, "bounds": "flush", "resolve": {"scale": {"x": "independent", "y": "independent"}}},
{"vconcat": [
 {"width": 391, "height": 100,
  "layer": [
   {"data": {"values": [{"text": "J. BACTERIOL."}]},
    "mark": {"type": "text", "align": "right", "baseline": "middle", "font": "Liberation Serif", "fontSize": 12.5, "color": "#111"},
    "encoding": {"x": {"datum": 380, "type": "quantitative", "scale": {"domain": [0, 391], "nice": false, "zero": false}, "axis": null},
                 "y": {"datum": 85, "type": "quantitative", "scale": {"domain": [0, 100], "reverse": true, "nice": false, "zero": false}, "axis": null},
                 "text": {"field": "text"}}}
  ]},
 {"width": 391, "height": 160,
  "layer": [
   {"data": {"name": "bodyR"}, "transform": [{"filter": "datum.line == 0"}],
    "mark": {"type": "text", "align": "left", "baseline": "middle", "font": "DejaVu Serif", "fontSize": 14.4, "color": "#111"},
    "encoding": {"x": {"datum": 27, "type": "quantitative", "scale": {"domain": [0, 391], "nice": false, "zero": false}, "axis": null},
                 "y": {"field": "line", "type": "quantitative", "scale": {"domain": [-1.657, 7.810], "reverse": true, "nice": false, "zero": false}, "axis": null},
                 "text": {"field": "text"}}},
   {"data": {"name": "bodyR"}, "transform": [{"filter": "datum.line > 0"}],
    "mark": {"type": "text", "align": "left", "baseline": "middle", "font": "DejaVu Serif", "fontSize": 14.4, "color": "#111"},
    "encoding": {"x": {"datum": 12, "type": "quantitative", "scale": {"domain": [0, 391], "nice": false, "zero": false}, "axis": null},
                 "y": {"field": "line", "type": "quantitative", "scale": {"domain": [-1.657, 7.810], "reverse": true, "nice": false, "zero": false}, "axis": null},
                 "text": {"field": "text"}}}
  ]},
 {"width": 391, "height": 795,
  "encoding": {
   "x": {"field": "nm", "type": "quantitative", "scale": {"domain": [498.52, 683.24], "nice": false, "zero": false}, "axis": null}
  },
  "layer": [
   {"data": {"name": "f4"}, "mark": {"type": "line", "color": "black", "strokeWidth": 2.7, "interpolate": "monotone"},
    "encoding": {"y": {"field": "A", "type": "quantitative", "scale": {"domain": [0, 0.95783], "nice": false, "zero": false}, "axis": null}, "detail": {"field": "s"}}},
   {"data": {"name": "f4lab"}, "mark": {"type": "text", "align": "left", "baseline": "middle", "font": "Liberation Sans Narrow, Arial Narrow, DejaVu Sans Condensed, sans-serif", "fontSize": 19, "fontStyle": "italic", "fontWeight": "bold", "color": "black"},
    "encoding": {"y": {"field": "A", "type": "quantitative", "scale": {"domain": [0, 0.95783], "nice": false, "zero": false}, "axis": null}, "text": {"field": "label"}}},
   {"data": {"name": "f4lab2"}, "mark": {"type": "text", "align": "left", "baseline": "middle", "font": "Liberation Sans Narrow, Arial Narrow, DejaVu Sans Condensed, sans-serif", "fontSize": 16, "fontWeight": "bold", "color": "black"},
    "encoding": {"y": {"field": "A", "type": "quantitative", "scale": {"domain": [0, 0.95783], "nice": false, "zero": false}, "axis": null}, "text": {"field": "label"}}},
   {"data": {"name": "f4cyt"}, "mark": {"type": "text", "align": "right", "baseline": "middle", "font": "Liberation Sans Narrow, Arial Narrow, DejaVu Sans Condensed, sans-serif", "fontSize": 21, "color": "black"},
    "encoding": {"y": {"field": "A", "type": "quantitative", "scale": {"domain": [0, 0.95783], "nice": false, "zero": false}, "axis": null}, "text": {"field": "label"}}},
   {"data": {"name": "f4let"}, "mark": {"type": "text", "align": "left", "baseline": "middle", "font": "Liberation Sans Narrow, Arial Narrow, DejaVu Sans Condensed, sans-serif", "fontSize": 21, "fontStyle": "italic", "color": "black"},
    "encoding": {"y": {"field": "A", "type": "quantitative", "scale": {"domain": [0, 0.95783], "nice": false, "zero": false}, "axis": null}, "text": {"field": "label"}}},
   {"data": {"name": "f4dA"}, "mark": {"type": "text", "align": "center", "baseline": "middle", "font": "Liberation Sans Narrow, Arial Narrow, DejaVu Sans Condensed, sans-serif", "fontSize": 19, "color": "black"},
    "encoding": {"y": {"field": "A", "type": "quantitative", "scale": {"domain": [0, 0.95783], "nice": false, "zero": false}, "axis": null}, "text": {"field": "label"}}},
   {"data": {"name": "f4sh"}, "mark": {"type": "rule", "color": "black", "strokeWidth": 1.6},
    "encoding": {"y": {"field": "A", "type": "quantitative", "scale": {"domain": [0, 0.95783], "nice": false, "zero": false}, "axis": null}, "y2": {"field": "A2"}}},
   {"data": {"name": "f4hd"}, "mark": {"type": "point", "filled": true, "opacity": 1, "color": "black", "size": 49, "strokeWidth": 0},
    "encoding": {"y": {"field": "A", "type": "quantitative", "scale": {"domain": [0, 0.95783], "nice": false, "zero": false}, "axis": null},
                 "shape": {"field": "dir", "type": "nominal", "scale": {"domain": ["up", "down"], "range": ["M-0.7,2.2L0.7,2.2L0,0Z", "M-0.7,-2.2L0.7,-2.2L0,0Z"]}, "legend": null}}},
   {"data": {"values": [{"nm": 510, "nm2": 630}]}, "mark": {"type": "rule", "color": "black", "strokeWidth": 1.8},
    "encoding": {"x2": {"field": "nm2"}, "y": {"datum": 0.0792, "type": "quantitative", "scale": {"domain": [0, 0.95783], "nice": false, "zero": false}, "axis": null}}},
   {"data": {"name": "ticks"}, "mark": {"type": "rule", "color": "black", "strokeWidth": 1.8},
    "encoding": {"y": {"datum": 0.0792, "type": "quantitative", "scale": {"domain": [0, 0.95783], "nice": false, "zero": false}, "axis": null}, "y2": {"datum": 0.0928}}},
   {"data": {"name": "ticks"}, "transform": [{"filter": "datum.nm % 20 == 10"}], "mark": {"type": "text", "align": "center", "baseline": "middle", "font": "Liberation Sans Narrow, Arial Narrow, DejaVu Sans Condensed, sans-serif", "fontSize": 22, "color": "black"},
    "encoding": {"y": {"datum": 0.0542, "type": "quantitative", "scale": {"domain": [0, 0.95783], "nice": false, "zero": false}, "axis": null}, "text": {"field": "nm", "type": "quantitative", "format": "d"}}},
   {"data": {"values": [{"label": "Wavelength (nm)", "nm": 584}]}, "mark": {"type": "text", "align": "center", "baseline": "middle", "font": "Lato", "fontSize": 21, "color": "black"},
    "encoding": {"y": {"datum": 0.0157, "type": "quantitative", "scale": {"domain": [0, 0.95783], "nice": false, "zero": false}, "axis": null}, "text": {"field": "label"}}}
  ]},
 {"width": 391, "height": 180,
  "layer": [
   {"data": {"values": [{"line": 0, "text": "FIG. 4."}]},
    "mark": {"type": "text", "align": "left", "baseline": "middle", "font": "DejaVu Serif", "fontSize": 11.5, "color": "#111"},
    "encoding": {"x": {"datum": 27, "type": "quantitative", "scale": {"domain": [0, 391], "nice": false, "zero": false}, "axis": null},
                 "y": {"field": "line", "type": "quantitative", "scale": {"domain": [-0.850, 10.915], "reverse": true, "nice": false, "zero": false}, "axis": null},
                 "text": {"field": "text"}}},
   {"data": {"name": "cap4"}, "transform": [{"filter": "datum.line == 0"}],
    "mark": {"type": "text", "align": "left", "baseline": "middle", "font": "DejaVu Serif", "fontSize": 13.2, "fontStyle": "italic", "color": "#111"},
    "encoding": {"x": {"datum": 72, "type": "quantitative", "scale": {"domain": [0, 391], "nice": false, "zero": false}, "axis": null},
                 "y": {"field": "line", "type": "quantitative", "scale": {"domain": [-0.850, 10.915], "reverse": true, "nice": false, "zero": false}, "axis": null},
                 "text": {"field": "text"}}},
   {"data": {"name": "cap4"}, "transform": [{"filter": "datum.line > 0"}],
    "mark": {"type": "text", "align": "left", "baseline": "middle", "font": "DejaVu Serif", "fontSize": 13.2, "fontStyle": "italic", "color": "#111"},
    "encoding": {"x": {"datum": 12, "type": "quantitative", "scale": {"domain": [0, 391], "nice": false, "zero": false}, "axis": null},
                 "y": {"field": "line", "type": "quantitative", "scale": {"domain": [-0.850, 10.915], "reverse": true, "nice": false, "zero": false}, "axis": null},
                 "text": {"field": "text"}}}
  ]}
], "spacing": 0, "bounds": "flush", "resolve": {"scale": {"x": "independent", "y": "independent"}}}
]
}
